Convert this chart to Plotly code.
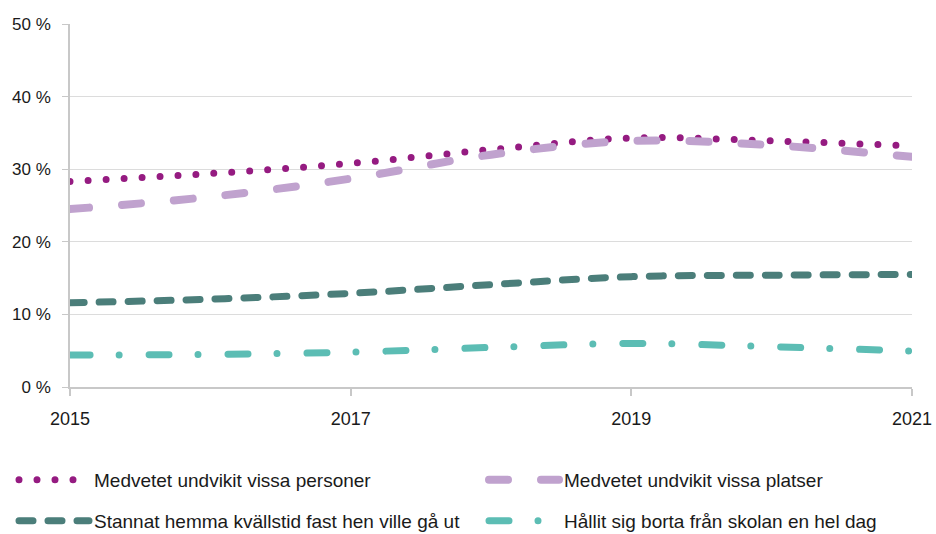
import plotly.graph_objects as go

years = [2015, 2016, 2017, 2018, 2019, 2020, 2021]
personer = [28.3, 29.4, 30.8, 32.7, 34.3, 33.9, 33.2]
platser = [24.5, 26.2, 28.7, 32.0, 33.9, 33.3, 31.7]
stannat = [11.6, 12.1, 12.9, 14.1, 15.2, 15.4, 15.5]
hallit = [4.4, 4.5, 4.8, 5.45, 6.0, 5.55, 4.95]

names = [
    "Medvetet undvikit vissa personer",
    "Medvetet undvikit vissa platser",
    "Stannat hemma kvällstid fast hen ville gå ut",
    "Hållit sig borta från skolan en hel dag",
]
colors = ["#951B81", "#C0A2CE", "#4B7E7A", "#5CBDB4"]
dashes = ["0px,18px", "19px,33px", "14px,15px", "20px,29px,0px,30px"]
widths = [7, 8, 7, 7]
legends = ["legend", "legend2", "legend3", "legend4"]
series = [personer, platser, stannat, hallit]

y_ticks = [0, 10, 20, 30, 40, 50]
y_labels = [f"{v} %" for v in y_ticks]
x_ticks = [2015, 2017, 2019, 2021]

fig = go.Figure()
for name, vals, c, d, w, lg in zip(names, series, colors, dashes, widths, legends):
    fig.add_trace(go.Scatter(
        x=years, y=vals, mode="lines", name=name, legend=lg,
        line=dict(color=c, width=w, dash=d, shape="spline", smoothing=1),
    ))

font = "Liberation Sans"
W, H = 936, 534


def leg(xpx, ypx):
    return dict(
        orientation="h", xref="container", yref="container",
        x=xpx / W, y=1 - ypx / H, xanchor="left", yanchor="middle",
        itemwidth=70,
        font=dict(family=font, size=19, color="#1a1a1a"),
        bgcolor="rgba(0,0,0,0)",
    )


fig.update_layout(
    width=W, height=H,
    margin=dict(l=70, r=24, t=24, b=147),
    paper_bgcolor="white", plot_bgcolor="white",
    font=dict(family=font, size=17, color="#222222"),
    showlegend=True,
    xaxis=dict(
        range=[2015, 2021], tickvals=x_ticks, ticktext=[str(v) for v in x_ticks],
        showgrid=False, zeroline=False, automargin=False,
        showline=True, linecolor="#C8C8C8", linewidth=1.5,
        ticks="outside", ticklen=7, tickcolor="#C8C8C8", tickwidth=1.5,
        tickfont=dict(family=font, size=18, color="#1a1a1a"),
        ticklabelstandoff=8,
    ),
    yaxis=dict(
        range=[0, 50], tickvals=y_ticks, ticktext=y_labels,
        showgrid=True, gridcolor="#DCDCDC", gridwidth=1.2, zeroline=False,
        automargin=False,
        showline=True, linecolor="#C8C8C8", linewidth=1.5,
        ticks="outside", ticklen=6, tickcolor="#C8C8C8", tickwidth=1.2,
        tickfont=dict(family=font, size=17, color="#1a1a1a"),
        ticklabelstandoff=8,
    ),
    legend=leg(14, 480),
    legend2=leg(484, 480),
    legend3=leg(14, 521),
    legend4=leg(484, 521),
)

post = ("document.body.style.margin='0';"
        "document.querySelectorAll('path.js-line').forEach(function(p){"
        "p.style.strokeLinecap='round';});")
fig.write_html("out.html", post_script=post, config={"displayModeBar": False})
